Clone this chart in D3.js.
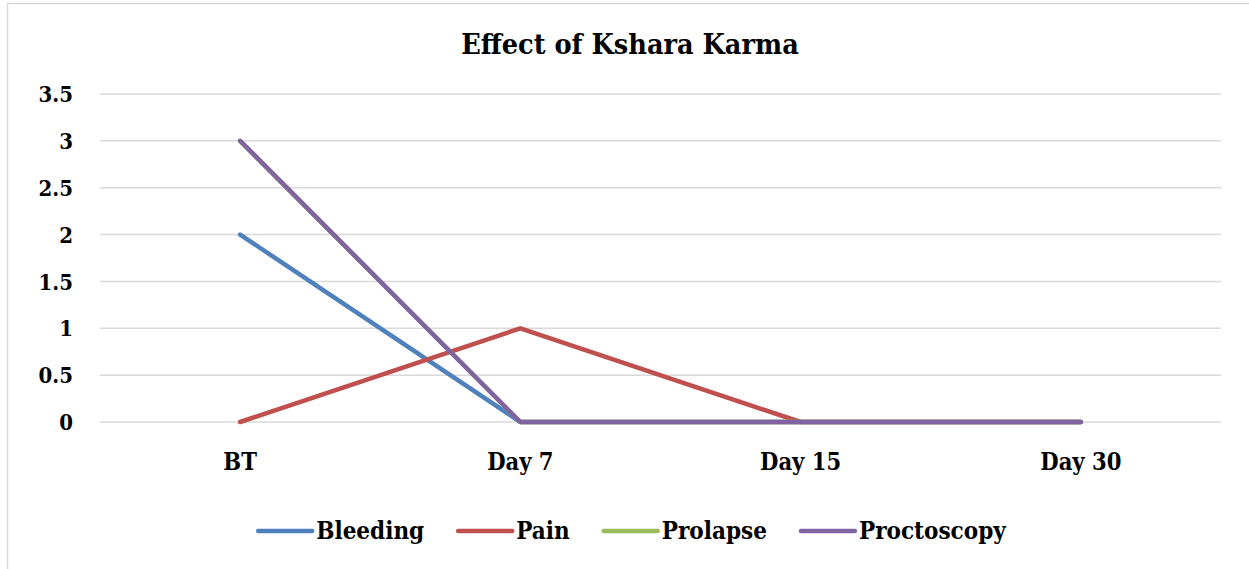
<!DOCTYPE html>
<html lang="en">
<head>
    <meta charset="UTF-8">
    <title>Effect of Kshara Karma</title>
    <script src="https://d3js.org/d3.v7.min.js"></script>
    <style>
        body {
            margin: 0;
            background: #fff;
        }
        svg text {
            font-family: "DejaVu Serif Condensed", "DejaVu Serif", serif;
            font-weight: bold;
            fill: #000;
        }
    </style>
</head>
<body>
    <svg id="chart" width="1249" height="569"></svg>

    <script>
        const categories = ["BT", "Day 7", "Day 15", "Day 30"];
        const seriesNames = ["Bleeding", "Pain", "Prolapse", "Proctoscopy"];
        const bleeding = [2, 0, 0, 0];
        const pain = [0, 1, 0, 0];
        const prolapse = [3, 0, 0, 0];
        const proctoscopy = [3, 0, 0, 0];
        const yTicks = [0, 0.5, 1, 1.5, 2, 2.5, 3, 3.5];
        const colors = ["#4f81bd", "#c0504d", "#9bbb59", "#8064a2"];

        const series = seriesNames.map((name, i) => ({
            name: name,
            values: [bleeding, pain, prolapse, proctoscopy][i],
            color: colors[i]
        }));

        const svg = d3.select("#chart");
        const margin = { left: 100, right: 28, top: 94, bottom: 147 };
        const width = 1249 - margin.left - margin.right;
        const height = 569 - margin.top - margin.bottom;

        // chart frame, runs off the right and bottom edge like the reference
        svg.append("rect")
            .attr("x", 7.5).attr("y", 3.5)
            .attr("width", 1260).attr("height", 580)
            .attr("fill", "none")
            .attr("stroke", "#d9d9d9")
            .attr("stroke-width", 1.5);

        svg.append("text")
            .attr("x", 630).attr("y", 54)
            .attr("text-anchor", "middle")
            .style("font-size", "28.5px")
            .text("Effect of Kshara Karma");

        const g = svg.append("g").attr("transform", `translate(${margin.left},${margin.top})`);

        const x = d3.scaleBand().domain(categories).range([0, width]);
        const y = d3.scaleLinear().domain([0, 3.5]).range([height, 0]);

        // gridlines
        g.append("g")
            .selectAll("line")
            .data(yTicks)
            .enter().append("line")
            .attr("x1", 0).attr("x2", width)
            .attr("y1", d => y(d)).attr("y2", d => y(d))
            .attr("stroke", "#d9d9d9")
            .attr("stroke-width", 1.5);

        const yAxis = g.append("g")
            .call(d3.axisLeft(y).tickValues(yTicks).tickSize(0).tickPadding(27).tickFormat(d3.format("")));
        yAxis.select(".domain").remove();
        yAxis.selectAll("text").style("font-size", "22px").attr("dy", "0.35em");

        const xAxis = g.append("g")
            .attr("transform", `translate(0,${height})`)
            .call(d3.axisBottom(x).tickSize(0).tickPadding(31));
        xAxis.select(".domain").remove();
        xAxis.selectAll("text").style("font-size", "23.5px");

        const line = d3.line()
            .x((d, i) => x(categories[i]) + x.bandwidth() / 2)
            .y(d => y(d));

        g.selectAll(".series")
            .data(series)
            .enter().append("path")
            .attr("class", "series")
            .attr("d", d => line(d.values))
            .attr("fill", "none")
            .attr("stroke", d => d.color)
            .attr("stroke-width", 4.5)
            .attr("stroke-linecap", "round")
            .attr("stroke-linejoin", "round");

        // legend, laid out from measured text widths and centred on the frame
        const legend = svg.append("g").attr("transform", "translate(0,531)");
        const items = legend.selectAll(".legend-item")
            .data(series)
            .enter().append("g")
            .attr("class", "legend-item");
        items.append("line")
            .attr("x1", 0).attr("x2", 54)
            .attr("stroke", d => d.color)
            .attr("stroke-width", 4.5)
            .attr("stroke-linecap", "round");
        items.append("text")
            .attr("x", 58).attr("dy", "0.35em")
            .style("font-size", "24px")
            .text(d => d.name);

        let offset = 0;
        const positions = [];
        items.each(function() {
            const w = d3.select(this).select("text").node().getComputedTextLength();
            positions.push(offset);
            offset += 58 + w + 34;
        });
        const total = offset - 34;
        const start = 632 - total / 2;
        items.attr("transform", (d, i) => `translate(${start + positions[i]},0)`);
    </script>
</body>
</html>
